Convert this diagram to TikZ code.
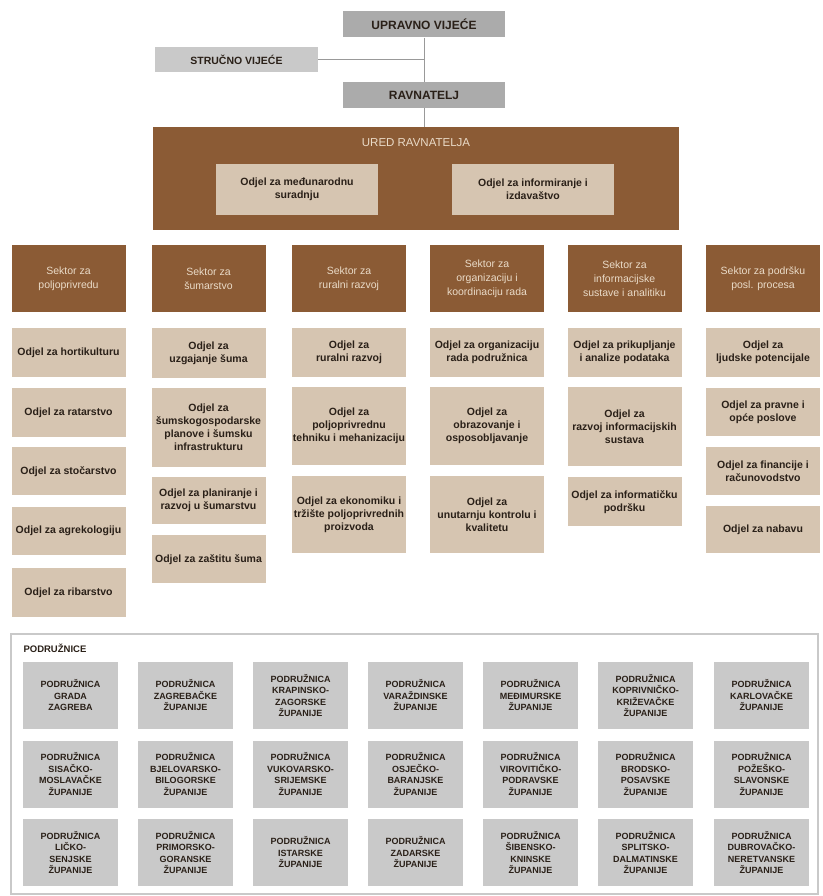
\documentclass[tikz,border=0pt]{standalone}
\usepackage{fontspec}
\setmainfont{Liberation Sans}
\usepackage{xcolor}
\usepackage{tikz}
\usetikzlibrary{positioning}

\definecolor{urbrown}{HTML}{8B5B35}
\definecolor{urbeige}{HTML}{D6C5B1}
\definecolor{urgray}{HTML}{ABABAB}
\definecolor{urlight}{HTML}{C9C9C9}
\definecolor{urtext}{HTML}{2A2018}
\definecolor{ursector}{HTML}{EADBC8}

\tikzset{
  topbox/.style={fill=urgray, text=urtext, minimum width=162, minimum height=26, inner sep=0pt,
    font=\fontsize{12}{14}\selectfont\bfseries},
  sidebox/.style={fill=urlight, text=urtext, minimum width=163, minimum height=25, inner sep=0pt,
    font=\fontsize{10.5}{12}\selectfont\bfseries},
  uredbox/.style={fill=urbrown, minimum width=526, minimum height=103, inner sep=0pt},
  uredodjel/.style={fill=urbeige, text=urtext, minimum width=162, minimum height=51, inner sep=1pt,
    align=center, font=\fontsize{10.5}{13}\selectfont\bfseries},
  sektor/.style={fill=urbrown, text=ursector, minimum width=114, minimum height=67, inner sep=1pt,
    align=center, font=\fontsize{10.5}{14}\selectfont},
  odjel/.style={fill=urbeige, text=urtext, minimum width=114, anchor=north, inner sep=1pt,
    align=center, font=\fontsize{10.5}{13}\selectfont\bfseries},
  podruz/.style={fill=urlight, text=urtext, minimum width=95, minimum height=67, inner sep=1pt,
    align=center, font=\fontsize{9}{11.5}\selectfont\bfseries},
  conn/.style={draw=gray!80, line width=1pt},
  frame/.style={draw=urlight, line width=1.5pt}
}

\begin{document}
\begin{tikzpicture}[x=1pt, y=-1pt]
\useasboundingbox (0,0) rectangle (822,896);

% vrh
\node[topbox] (upravno) at (424, 24.5) {UPRAVNO VIJEĆE};
\node[sidebox] (strucno) at (236.5, 59.5) {STRUČNO VIJEĆE};
\node[topbox] (ravnatelj) at (424, 95) {RAVNATELJ};

\node[uredbox] (ured) at (416, 178.5) {};
\node[text=ursector, font=\fontsize{11.5}{13}\selectfont] (uredtitle) at (416, 143) {URED RAVNATELJA};
\node[uredodjel] (medjunar) at (297, 189.5) {Odjel za međunarodnu\\suradnju};
\node[uredodjel] (informir) at (533, 189.5) {Odjel za informiranje i\\izdavaštvo};

\draw[conn] (upravno.south) -- (ravnatelj.north);
\draw[conn] (strucno.east) -- (strucno.east -| upravno.south);
\draw[conn] (ravnatelj.south) -- (ured.north -| ravnatelj.south);

% sektori
\node[sektor] (sek1) at (68.5, 278.5) {Sektor za\\poljoprivredu};
\node[sektor] (sek2) at (208.5, 278.5) {Sektor za\\šumarstvo};
\node[sektor] (sek3) at (349, 278.5) {Sektor za\\ruralni razvoj};
\node[sektor] (sek4) at (487, 278.5) {Sektor za\\organizaciju i\\koordinaciju rada};
\node[sektor] (sek5) at (624.5, 278.5) {Sektor za\\informacijske\\sustave i analitiku};
\node[sektor] (sek6) at (763, 278.5) {Sektor za podršku\\posl. procesa};

% odjeli - poljoprivreda
\node[odjel, minimum height=49] (odj11) at (68.5, 328) {Odjel za hortikulturu};
\node[odjel, minimum height=49] (odj12) at (68.5, 388) {Odjel za ratarstvo};
\node[odjel, minimum height=48] (odj13) at (68.5, 447) {Odjel za stočarstvo};
\node[odjel, minimum height=48] (odj14) at (68.5, 507) {Odjel za agrekologiju};
\node[odjel, minimum height=49] (odj15) at (68.5, 568) {Odjel za ribarstvo};

% odjeli - sumarstvo
\node[odjel, minimum height=50] (odj21) at (208.5, 328) {Odjel za\\uzgajanje šuma};
\node[odjel, minimum height=79] (odj22) at (208.5, 388) {Odjel za\\šumskogospodarske\\planove i šumsku\\infrastrukturu};
\node[odjel, minimum height=47] (odj23) at (208.5, 477) {Odjel za planiranje i\\razvoj u šumarstvu};
\node[odjel, minimum height=48] (odj24) at (208.5, 535) {Odjel za zaštitu šuma};

% odjeli - ruralni razvoj
\node[odjel, minimum height=49] (odj31) at (349, 328) {Odjel za\\ruralni razvoj};
\node[odjel, minimum height=78] (odj32) at (349, 387) {Odjel za\\poljoprivrednu\\tehniku i mehanizaciju};
\node[odjel, minimum height=77] (odj33) at (349, 476) {Odjel za ekonomiku i\\tržište poljoprivrednih\\proizvoda};

% odjeli - organizacija
\node[odjel, minimum height=49] (odj41) at (487, 328) {Odjel za organizaciju\\rada podružnica};
\node[odjel, minimum height=78] (odj42) at (487, 387) {Odjel za\\obrazovanje i\\osposobljavanje};
\node[odjel, minimum height=77] (odj43) at (487, 476) {Odjel za\\unutarnju kontrolu i\\kvalitetu};

% odjeli - informacijski sustavi
\node[odjel, minimum height=49] (odj51) at (624.5, 328) {Odjel za prikupljanje\\i analize podataka};
\node[odjel, minimum height=79] (odj52) at (624.5, 387) {Odjel za\\razvoj informacijskih\\sustava};
\node[odjel, minimum height=49] (odj53) at (624.5, 477) {Odjel za informatičku\\podršku};

% odjeli - podrska
\node[odjel, minimum height=49] (odj61) at (763, 328) {Odjel za\\ljudske potencijale};
\node[odjel, minimum height=48] (odj62) at (763, 388) {Odjel za pravne i\\opće poslove};
\node[odjel, minimum height=48] (odj63) at (763, 447) {Odjel za financije i\\računovodstvo};
\node[odjel, minimum height=47] (odj64) at (763, 506) {Odjel za nabavu};

% podruznice
\node[frame, minimum width=807, minimum height=260, inner sep=0pt] (podruznice) at (414.5, 764) {};
\node[anchor=west, text=urtext, font=\fontsize{9.5}{11}\selectfont\bfseries] (podlabel) at (20, 648) {PODRUŽNICE};

\node[podruz] (pod11) at (70.5, 695.5) {PODRUŽNICA\\GRADA\\ZAGREBA};
\node[podruz] (pod12) at (185.5, 695.5) {PODRUŽNICA\\ZAGREBAČKE\\ŽUPANIJE};
\node[podruz] (pod13) at (300.5, 695.5) {PODRUŽNICA\\KRAPINSKO-\\ZAGORSKE\\ŽUPANIJE};
\node[podruz] (pod14) at (415.5, 695.5) {PODRUŽNICA\\VARAŽDINSKE\\ŽUPANIJE};
\node[podruz] (pod15) at (530.5, 695.5) {PODRUŽNICA\\MEĐIMURSKE\\ŽUPANIJE};
\node[podruz] (pod16) at (645.5, 695.5) {PODRUŽNICA\\KOPRIVNIČKO-\\KRIŽEVAČKE\\ŽUPANIJE};
\node[podruz] (pod17) at (761.5, 695.5) {PODRUŽNICA\\KARLOVAČKE\\ŽUPANIJE};

\node[podruz] (pod21) at (70.5, 774) {PODRUŽNICA\\SISAČKO-\\MOSLAVAČKE\\ŽUPANIJE};
\node[podruz] (pod22) at (185.5, 774) {PODRUŽNICA\\BJELOVARSKO-\\BILOGORSKE\\ŽUPANIJE};
\node[podruz] (pod23) at (300.5, 774) {PODRUŽNICA\\VUKOVARSKO-\\SRIJEMSKE\\ŽUPANIJE};
\node[podruz] (pod24) at (415.5, 774) {PODRUŽNICA\\OSJEČKO-\\BARANJSKE\\ŽUPANIJE};
\node[podruz] (pod25) at (530.5, 774) {PODRUŽNICA\\VIROVITIČKO-\\PODRAVSKE\\ŽUPANIJE};
\node[podruz] (pod26) at (645.5, 774) {PODRUŽNICA\\BRODSKO-\\POSAVSKE\\ŽUPANIJE};
\node[podruz] (pod27) at (761.5, 774) {PODRUŽNICA\\POŽEŠKO-\\SLAVONSKE\\ŽUPANIJE};

\node[podruz] (pod31) at (70.5, 852.5) {PODRUŽNICA\\LIČKO-\\SENJSKE\\ŽUPANIJE};
\node[podruz] (pod32) at (185.5, 852.5) {PODRUŽNICA\\PRIMORSKO-\\GORANSKE\\ŽUPANIJE};
\node[podruz] (pod33) at (300.5, 852.5) {PODRUŽNICA\\ISTARSKE\\ŽUPANIJE};
\node[podruz] (pod34) at (415.5, 852.5) {PODRUŽNICA\\ZADARSKE\\ŽUPANIJE};
\node[podruz] (pod35) at (530.5, 852.5) {PODRUŽNICA\\ŠIBENSKO-\\KNINSKE\\ŽUPANIJE};
\node[podruz] (pod36) at (645.5, 852.5) {PODRUŽNICA\\SPLITSKO-\\DALMATINSKE\\ŽUPANIJE};
\node[podruz] (pod37) at (761.5, 852.5) {PODRUŽNICA\\DUBROVAČKO-\\NERETVANSKE\\ŽUPANIJE};

\end{tikzpicture}
\end{document}
